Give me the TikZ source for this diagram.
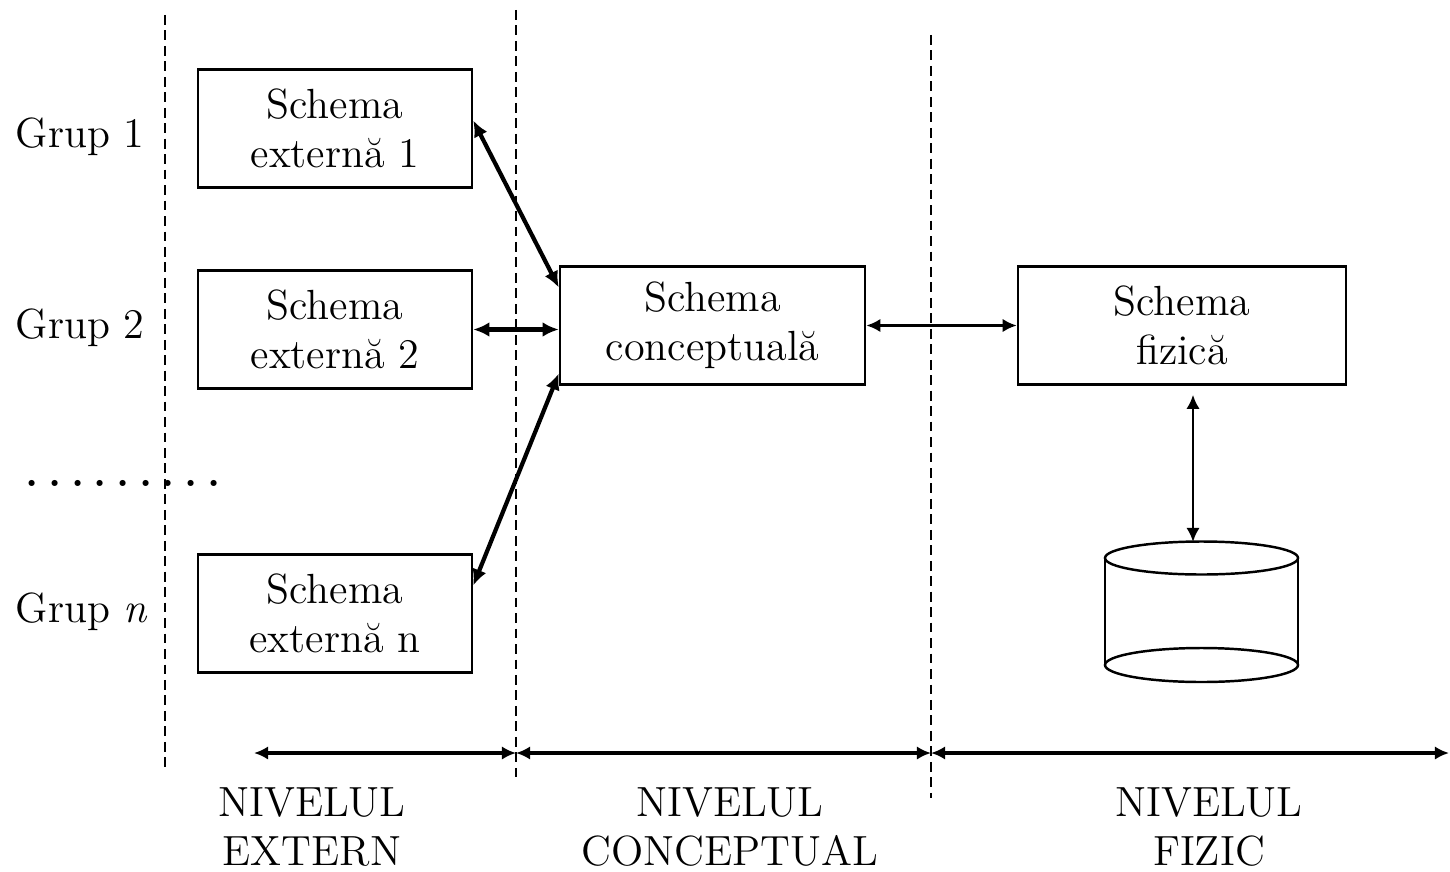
\documentclass[tikz,border=0pt]{standalone}
\usetikzlibrary{arrows.meta}
\newcommand{\dotgap}{\hspace{2.7pt}}
\begin{document}
\begin{tikzpicture}[font=\large,
  schema node/.style={rectangle,draw,line width=0.7pt,align=center,inner sep=0pt,minimum height=1.18cm},
  group label/.style={anchor=west,inner sep=0pt},
  level label/.style={align=center,inner sep=0pt},
  level line/.style={dashed,dash pattern=on 2.8pt off 1.6pt,line width=0.5pt},
  >={Latex[length=4pt,width=3.8pt]}]
  	\useasboundingbox (0,0) rectangle (14.5,8.71);
  	
  	% dashed separators
  	\draw[level line] (1.65,8.56) -- (1.65,1.01);
  	\draw[level line] (5.16,8.61) -- (5.16,0.94);
  	\draw[level line] (9.31,8.36) -- (9.31,0.73);
  	
  	\node[group label] at (0.15,7.34) (g1) {Grup 1};
  	\node[group label] at (0.15,5.43) (g2) {Grup 2};
  	\node[group label,anchor=base west] at (0.25,3.85) (gd) {\textbf{.\dotgap.\dotgap.\dotgap.\dotgap.\dotgap.\dotgap.\dotgap.\dotgap.}};
  	\node[group label] at (0.15,2.59) (gn) {Grup \textit{n}};
  	
  	\node[schema node,minimum width=2.74cm] at (3.35,7.425) (e1) {Schema\\externă 1};
  	\node[schema node,minimum width=2.74cm] at (3.35,5.415) (e2) {Schema\\externă 2};
  	\node[schema node,minimum width=2.74cm] at (3.35,2.575) (en) {Schema\\externă n};
  	\node[schema node,minimum width=3.05cm] at (7.125,5.455) (con) {Schema\\conceptuală};
  	\node[schema node,minimum width=3.28cm] at (11.82,5.455) (fiz) {Schema\\fizică};
  	
  	% disk
  	\coordinate (db) at (11.93,3.29);
  	\coordinate (dbc) at (12.015,3.13);
  	\draw[line width=0.7pt] (dbc) ellipse (0.965 and 0.165);
  	\draw[line width=0.7pt] ([yshift=-1.07cm]dbc) ellipse (0.965 and 0.17);
  	\draw[line width=0.7pt] ([xshift=-0.965cm]dbc) -- ++(0,-1.07);
  	\draw[line width=0.7pt] ([xshift=0.965cm]dbc) -- ++(0,-1.07);
  	
  	\path[<->,line width=1.2pt,>={Latex[length=4.6pt,width=4.2pt]}]
  	([yshift=0.08cm]e1.east) edge ([yshift=0.38cm]con.west)
  	(e2.east) edge (e2.east -| con.west)
  	([yshift=0.28cm]en.east) edge ([yshift=-0.48cm]con.west);
  	\path[<->,line width=0.8pt]
  	(con.east) edge (fiz.west)
  	([yshift=-0.09cm]fiz.south -| db) edge (db);
  	
  	% level arrows
  	\coordinate (b0) at (2.54,1.18);
  	\coordinate (b1) at (5.16,1.18);
  	\coordinate (b2) at (9.31,1.18);
  	\coordinate (b3) at (14.49,1.18);
  	\path[<->,line width=0.9pt]
  	(b0) edge (b1)
  	(b1) edge (b2)
  	(b2) edge (b3);
  	
  	\node[level label] at (3.12,0.44) (lx) {NIVELUL\\EXTERN};
  	\node[level label] at (7.30,0.44) (lc) {NIVELUL\\CONCEPTUAL};
  	\node[level label] at (12.09,0.44) (lf) {NIVELUL\\FIZIC};
\end{tikzpicture}
\end{document}
